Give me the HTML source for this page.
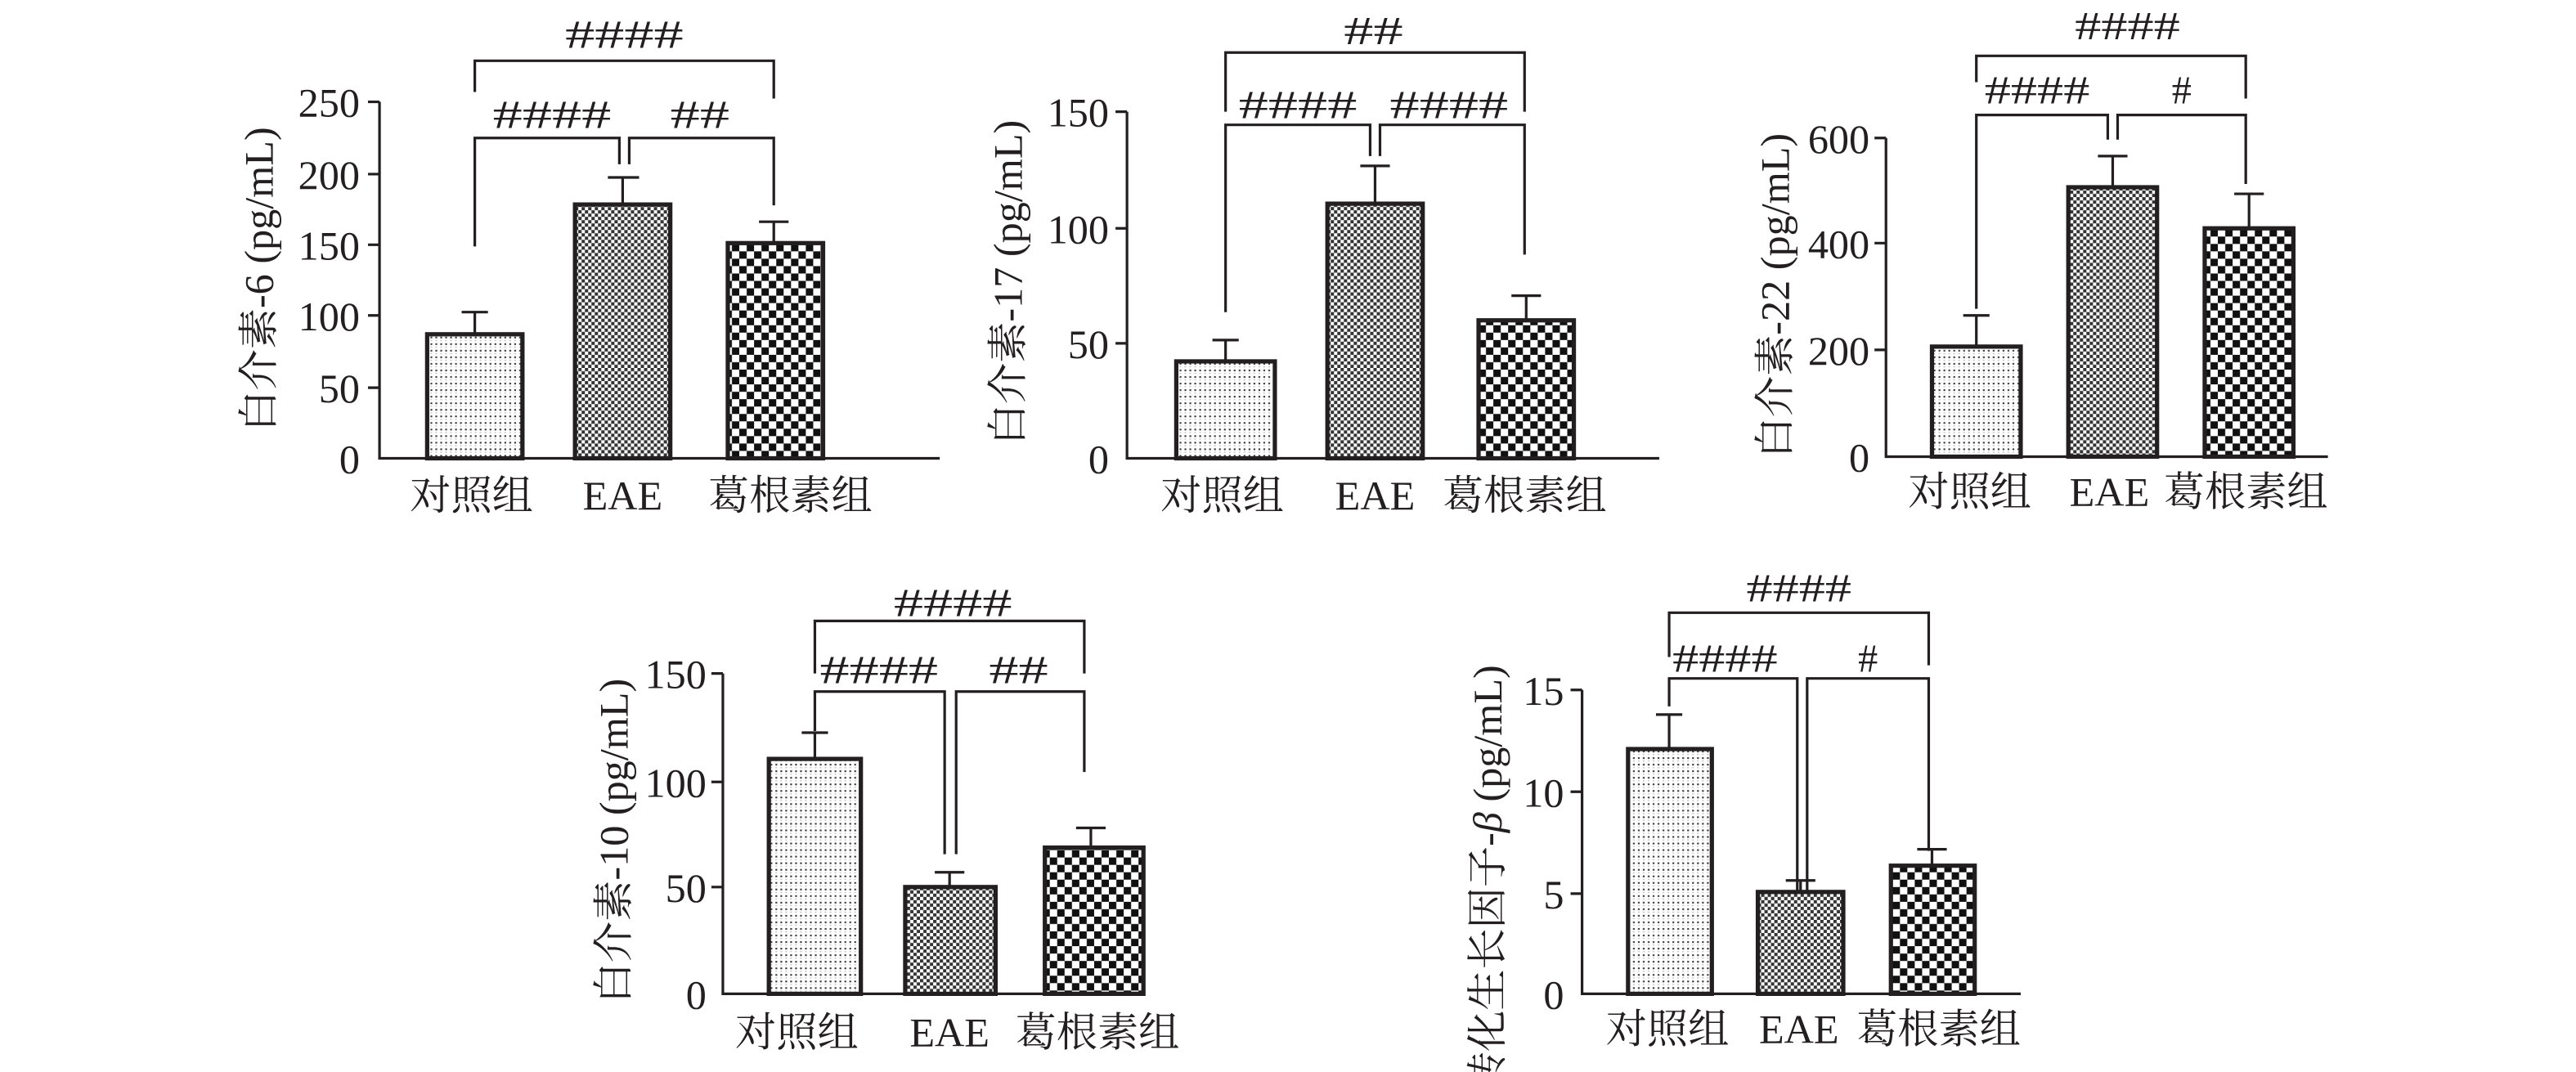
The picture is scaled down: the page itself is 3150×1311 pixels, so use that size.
<!DOCTYPE html>
<html><head><meta charset="utf-8"><style>
html,body{margin:0;padding:0;background:#fff;}
svg{display:block;}
text{font-family:"Liberation Serif","Noto Serif CJK SC",serif;fill:#231f20;}
</style></head><body>
<svg width="3150" height="1311" viewBox="0 0 1568 652.6" xmlns="http://www.w3.org/2000/svg">
<defs>
<pattern id="pd" patternUnits="userSpaceOnUse" width="3" height="4"><rect width="3" height="4" fill="#fff"/><rect x="1" y="1" width="1.1" height="1" fill="#333"/><rect x="1" y="3" width="1" height="0.6" fill="#bbb"/></pattern>
<pattern id="pf" patternUnits="userSpaceOnUse" width="4" height="4"><rect width="4" height="4" fill="#fff"/><rect width="2" height="2" fill="#333"/><rect x="2" y="2" width="2" height="2" fill="#333"/></pattern>
<pattern id="pc" patternUnits="userSpaceOnUse" width="9" height="9"><rect width="9" height="9" fill="#fff"/><rect width="4.5" height="4.5" fill="#111"/><rect x="4.5" y="4.5" width="4.5" height="4.5" fill="#111"/></pattern>
</defs>
<g stroke="#231f20" fill="none">

<g stroke-width="1.6">
<path d="M231,62 V279 H572"/>
<path d="M224,62 H231 M224,106 H231 M224,149 H231 M224,192 H231 M224,236 H231"/>
<path d="M289,190 V203 M281,190 H297 M379,108 V124 M370,108 H389 M471,135 V148 M462,135 H480"/>
<path d="M289,150 V84 H377 V100 M383,100 V84 H471 V125 M289,56 V37 H471 V60"/>
</g>
<rect x="260" y="203.5" width="58" height="75.5" fill="url(#pd)" stroke-width="2.6"/>
<rect x="350" y="124.5" width="58" height="154.5" fill="url(#pf)" stroke-width="2.6"/>
<rect x="443" y="148" width="58" height="131" fill="url(#pc)" stroke-width="2.6"/>

<g stroke-width="1.6">
<path d="M686,68 V279 H1010"/>
<path d="M679,68 H686 M679,139 H686 M679,209 H686"/>
<path d="M746,207 V220 M738,207 H754 M837,101 V124 M828,101 H846 M929,180 V195 M920,180 H938"/>
<path d="M746,190 V76 H834 V95 M840,95 V76 H928 V155 M746,68 V32 H928 V68"/>
</g>
<rect x="716" y="220" width="60" height="59" fill="url(#pd)" stroke-width="2.6"/>
<rect x="808" y="124" width="58" height="155" fill="url(#pf)" stroke-width="2.6"/>
<rect x="900" y="195" width="58" height="84" fill="url(#pc)" stroke-width="2.6"/>

<g stroke-width="1.6">
<path d="M1148,84 V278 H1417"/>
<path d="M1141,84 H1148 M1141,148 H1148 M1141,213 H1148"/>
<path d="M1203,192 V211 M1195,192 H1211 M1286,95 V114 M1277,95 H1295 M1369,118 V139 M1360,118 H1378"/>
<path d="M1203,188 V70 H1283 V85 M1289,85 V70 H1367 V112 M1203,50 V34 H1367 V60"/>
</g>
<rect x="1176" y="211" width="54" height="67" fill="url(#pd)" stroke-width="2.6"/>
<rect x="1259" y="114" width="54" height="164" fill="url(#pf)" stroke-width="2.6"/>
<rect x="1342" y="139" width="54" height="139" fill="url(#pc)" stroke-width="2.6"/>

<g stroke-width="1.6">
<path d="M440,410 V605 H695"/>
<path d="M433,410 H440 M433,476 H440 M433,540 H440"/>
<path d="M496,446 V462 M488,446 H504 M578,531 V540 M569,531 H587 M664,504 V516 M655,504 H673"/>
<path d="M496,445 V421 H575 V520 M582,520 V421 H660 V470 M496,410 V378 H660 V410"/>
</g>
<rect x="468" y="462" width="56" height="143" fill="url(#pd)" stroke-width="2.6"/>
<rect x="551" y="540" width="55" height="65" fill="url(#pf)" stroke-width="2.6"/>
<rect x="636" y="516" width="60" height="89" fill="url(#pc)" stroke-width="2.6"/>

<g stroke-width="1.6">
<path d="M963,420 V605 H1230"/>
<path d="M956,420 H963 M956,482 H963 M956,544 H963"/>
<path d="M1016,435 V456 M1008,435 H1024 M1096,536 V543 M1087,536 H1105 M1176,517 V527 M1167,517 H1185"/>
<path d="M1016,430 V413 H1094 V590 M1100,590 V413 H1174 V518 M1016,400 V373 H1174 V405"/>
</g>
<rect x="991" y="456" width="51" height="149" fill="url(#pd)" stroke-width="2.6"/>
<rect x="1070" y="543" width="52" height="62" fill="url(#pf)" stroke-width="2.6"/>
<rect x="1151" y="527" width="51" height="78" fill="url(#pc)" stroke-width="2.6"/>
</g>

<g font-size="25" text-anchor="end">
<text x="219" y="71">250</text><text x="219" y="115">200</text><text x="219" y="158">150</text><text x="219" y="201">100</text><text x="219" y="245">50</text><text x="219" y="288">0</text>
<text x="675" y="77">150</text><text x="675" y="148">100</text><text x="675" y="218">50</text><text x="675" y="288">0</text>
<text x="1138" y="93">600</text><text x="1138" y="157">400</text><text x="1138" y="222">200</text><text x="1138" y="287">0</text>
<text x="430" y="419">150</text><text x="430" y="485">100</text><text x="430" y="549">50</text><text x="430" y="614">0</text>
<text x="952" y="429">15</text><text x="952" y="491">10</text><text x="952" y="553">5</text><text x="952" y="614">0</text>
</g>

<g font-size="24" text-anchor="middle" lengthAdjust="spacingAndGlyphs">
<text x="380" y="29" textLength="72" lengthAdjust="spacingAndGlyphs">####</text><text x="336" y="78" textLength="72" lengthAdjust="spacingAndGlyphs">####</text><text x="426" y="78" textLength="36" lengthAdjust="spacingAndGlyphs">##</text>
<text x="836" y="27" textLength="36" lengthAdjust="spacingAndGlyphs">##</text><text x="790" y="72" textLength="72" lengthAdjust="spacingAndGlyphs">####</text><text x="882" y="72" textLength="72" lengthAdjust="spacingAndGlyphs">####</text>
<text x="1295" y="24" textLength="64" lengthAdjust="spacingAndGlyphs">####</text><text x="1240" y="63" textLength="64" lengthAdjust="spacingAndGlyphs">####</text><text x="1328" y="63">#</text>
<text x="580" y="375" textLength="72" lengthAdjust="spacingAndGlyphs">####</text><text x="535" y="416" textLength="72" lengthAdjust="spacingAndGlyphs">####</text><text x="620" y="416" textLength="36" lengthAdjust="spacingAndGlyphs">##</text>
<text x="1095" y="366" textLength="64" lengthAdjust="spacingAndGlyphs">####</text><text x="1050" y="409" textLength="64" lengthAdjust="spacingAndGlyphs">####</text><text x="1137" y="409">#</text>
</g>

<g font-size="25" text-anchor="middle">
<text x="287" y="310">对照组</text><text x="379" y="310">EAE</text><text x="481" y="310">葛根素组</text>
<text x="744" y="310">对照组</text><text x="837" y="310">EAE</text><text x="928" y="310">葛根素组</text>
<text x="1199" y="308">对照组</text><text x="1284" y="308">EAE</text><text x="1367" y="308">葛根素组</text>
<text x="485" y="637">对照组</text><text x="578" y="637">EAE</text><text x="668" y="637">葛根素组</text>
<text x="1015" y="635">对照组</text><text x="1095" y="635">EAE</text><text x="1180" y="635">葛根素组</text>
</g>

<g font-size="25" text-anchor="middle">
<text transform="translate(166,170) rotate(-90)">白介素-6 (pg/mL)</text>
<text transform="translate(622,172) rotate(-90)">白介素-17 (pg/mL)</text>
<text transform="translate(1089,180) rotate(-90)">白介素-22 (pg/mL)</text>
<text transform="translate(382,512) rotate(-90)">白介素-10 (pg/mL)</text>
<text transform="translate(914,535) rotate(-90)">转化生长因子-<tspan font-style="italic">β</tspan> (pg/mL)</text>
</g>
</svg>
</body></html>
